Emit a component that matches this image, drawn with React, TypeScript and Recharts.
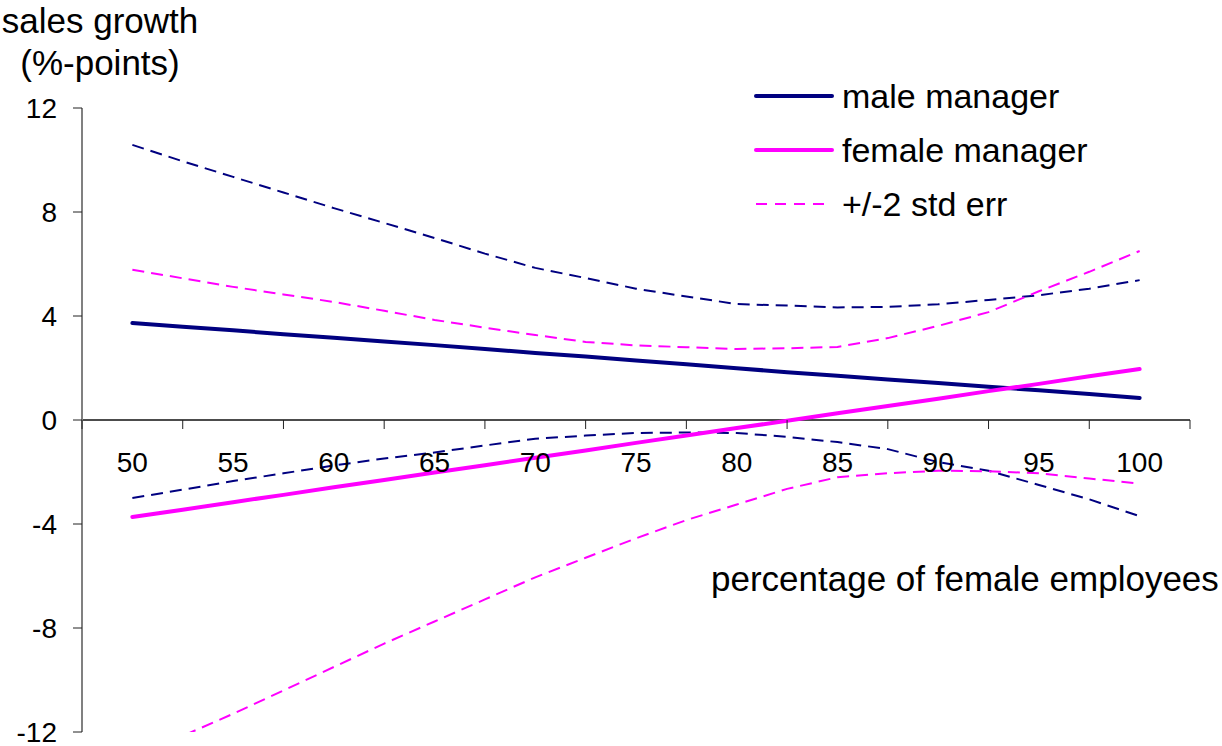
import { LineChart, Line, XAxis, YAxis, ReferenceLine } from 'recharts'

const shares = [50, 52.5, 55, 57.5, 60, 62.5, 65, 67.5, 70, 72.5, 75, 77.5, 80, 82.5, 85, 87.5, 90, 92.5, 95, 97.5, 100]

const maleManager = [3.73, 3.59, 3.45, 3.3, 3.16, 3.02, 2.88, 2.73, 2.58, 2.44, 2.29, 2.14, 1.99, 1.84, 1.7, 1.56, 1.42, 1.28, 1.14, 1.0, 0.85]
const maleUpper = [10.58, 9.95, 9.35, 8.75, 8.15, 7.58, 7.0, 6.4, 5.85, 5.46, 5.05, 4.75, 4.46, 4.4, 4.33, 4.35, 4.45, 4.62, 4.8, 5.05, 5.38]
const maleLower = [-3.0, -2.68, -2.35, -2.05, -1.75, -1.48, -1.25, -0.98, -0.72, -0.6, -0.5, -0.48, -0.5, -0.65, -0.85, -1.12, -1.62, -1.95, -2.5, -3.05, -3.7]

const femaleManager = [-3.73, -3.45, -3.16, -2.88, -2.59, -2.31, -2.02, -1.74, -1.45, -1.17, -0.88, -0.6, -0.31, -0.03, 0.26, 0.54, 0.82, 1.11, 1.39, 1.68, 1.96]
const femaleUpper = [5.78, 5.45, 5.12, 4.83, 4.54, 4.2, 3.85, 3.55, 3.27, 3.0, 2.87, 2.8, 2.73, 2.76, 2.81, 3.15, 3.62, 4.15, 4.95, 5.7, 6.5]
const femaleLower = [-13.0, -12.15, -11.3, -10.4, -9.5, -8.6, -7.75, -6.9, -6.05, -5.3, -4.55, -3.85, -3.25, -2.65, -2.2, -2.05, -1.95, -1.97, -2.05, -2.25, -2.45]

const xTicks = [50, 55, 60, 65, 70, 75, 80, 85, 90, 95, 100]
const yTicks = [-12, -8, -4, 0, 4, 8, 12]

const legendItems = [
  { label: 'male manager', color: '#000080', dashed: false },
  { label: 'female manager', color: '#ff00ff', dashed: false },
  { label: '+/-2 std err', color: '#ff00ff', dashed: true },
]

const data = shares.map((share, i) => ({
  share,
  maleManager: maleManager[i],
  maleUpper: maleUpper[i],
  maleLower: maleLower[i],
  femaleManager: femaleManager[i],
  femaleUpper: femaleUpper[i],
  femaleLower: femaleLower[i],
}))

const WIDTH = 1222
const HEIGHT = 746
const PLOT_LEFT = 82
const PLOT_RIGHT = 1190
const PLOT_TOP = 108
const PLOT_BOTTOM = 732
const X_DOMAIN: [number, number] = [47.5, 102.5]
const ZERO_Y = (PLOT_TOP + PLOT_BOTTOM) / 2
const HALF_STEP = (2.5 * (PLOT_RIGHT - PLOT_LEFT)) / (X_DOMAIN[1] - X_DOMAIN[0])
const FONT = '"Liberation Sans", Arial, sans-serif'

// x axis crosses at y = 0, so ticks are drawn there instead of at the bottom
const XTick = (props: any) => {
  const { x, payload, index } = props
  const last = index === xTicks.length - 1
  return (
    <g>
      <line x1={x - HALF_STEP} y1={ZERO_Y} x2={x - HALF_STEP} y2={ZERO_Y + 9} stroke="#222" />
      {last && <line x1={x + HALF_STEP} y1={ZERO_Y} x2={x + HALF_STEP} y2={ZERO_Y + 9} stroke="#222" />}
      <text x={x} y={ZERO_Y + 52} textAnchor="middle" fontSize={28} fontFamily={FONT} fill="#000">
        {payload.value}
      </text>
    </g>
  )
}

const LegendBox = () => (
  <div style={{ position: 'absolute', left: 754, top: 69, fontFamily: FONT, fontSize: 34, color: '#000' }}>
    {legendItems.map((item) => (
      <div key={item.label} style={{ display: 'flex', alignItems: 'center', height: 54 }}>
        <svg width={80} height={8}>
          <line
            x1={2}
            y1={4}
            x2={78}
            y2={4}
            stroke={item.color}
            strokeWidth={item.dashed ? 2 : 4}
            strokeDasharray={item.dashed ? '11 8' : undefined}
            strokeLinecap={item.dashed ? 'butt' : 'round'}
          />
        </svg>
        <span style={{ marginLeft: 8, whiteSpace: 'nowrap' }}>{item.label}</span>
      </div>
    ))}
  </div>
)

export default function App() {
  return (
    <div style={{ position: 'absolute', left: 0, top: 0, width: WIDTH, height: HEIGHT, fontFamily: FONT, background: '#fff' }}>
      <LineChart
        width={WIDTH}
        height={HEIGHT}
        data={data}
        margin={{ top: PLOT_TOP, right: WIDTH - PLOT_RIGHT, bottom: 0, left: 0 }}
      >
        <XAxis
          dataKey="share"
          type="number"
          domain={X_DOMAIN}
          ticks={xTicks}
          interval={0}
          axisLine={false}
          tickLine={false}
          tick={<XTick />}
          height={HEIGHT - PLOT_BOTTOM}
        />
        <YAxis
          type="number"
          domain={[-12, 12]}
          ticks={yTicks}
          interval={0}
          allowDataOverflow
          width={PLOT_LEFT}
          tickSize={9}
          tickMargin={16}
          axisLine={{ stroke: '#808080', strokeWidth: 2 }}
          tickLine={{ stroke: '#222' }}
          tick={{ fill: '#000', fontSize: 28, fontFamily: FONT }}
        />
        <ReferenceLine y={0} stroke="#111" strokeWidth={1.5} />
        <Line dataKey="maleUpper" type="linear" stroke="#000080" strokeWidth={2} strokeDasharray="12 7" dot={false} isAnimationActive={false} />
        <Line dataKey="maleLower" type="linear" stroke="#000080" strokeWidth={2} strokeDasharray="12 7" dot={false} isAnimationActive={false} />
        <Line dataKey="femaleUpper" type="linear" stroke="#ff00ff" strokeWidth={2} strokeDasharray="12 7" dot={false} isAnimationActive={false} />
        <Line dataKey="femaleLower" type="linear" stroke="#ff00ff" strokeWidth={2} strokeDasharray="12 7" dot={false} isAnimationActive={false} />
        <Line dataKey="maleManager" type="linear" stroke="#000080" strokeWidth={4} strokeLinecap="round" dot={false} isAnimationActive={false} />
        <Line dataKey="femaleManager" type="linear" stroke="#ff00ff" strokeWidth={4} strokeLinecap="round" dot={false} isAnimationActive={false} />
      </LineChart>
      <div style={{ position: 'absolute', left: 0, top: 0, width: 200, textAlign: 'center', fontSize: 35, lineHeight: '42px' }}>
        sales growth
        <br />
        (%-points)
      </div>
      <div style={{ position: 'absolute', left: 711, top: 559, fontSize: 35, whiteSpace: 'nowrap' }}>
        percentage of female employees
      </div>
      <LegendBox />
    </div>
  )
}
